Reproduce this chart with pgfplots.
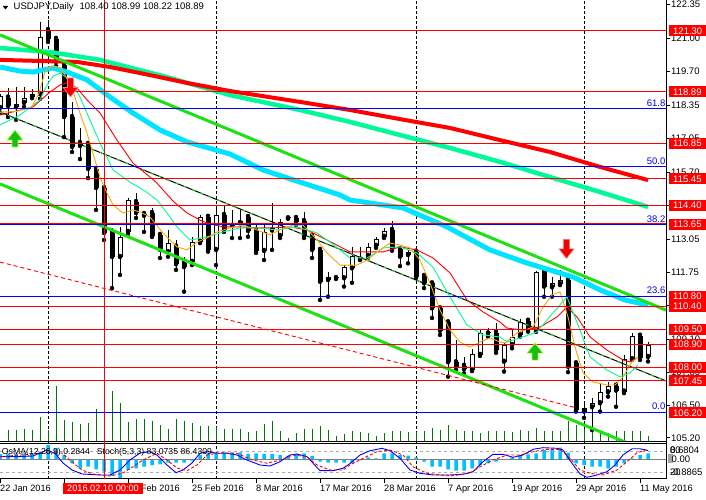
\documentclass[border=0pt]{standalone}
\usepackage{pgfplots}
\pgfplotsset{compat=1.18}
\usepackage{pgfplotstable}
\usepackage{fontspec}
\setmainfont{Liberation Sans}

\definecolor{mtred}{RGB}{255,0,0}
\definecolor{mtblue}{RGB}{0,0,255}
\definecolor{springg}{RGB}{0,250,154}
\definecolor{aquac}{RGB}{0,228,255}
\definecolor{limec}{RGB}{30,225,20}
\definecolor{volg}{RGB}{0,120,0}
\definecolor{osmab}{RGB}{0,191,255}
\definecolor{orangec}{RGB}{255,165,0}
\definecolor{upfill}{RGB}{20,190,20}
\definecolor{upedge}{RGB}{170,255,60}
\definecolor{dnfill}{RGB}{240,0,0}
\definecolor{dnedge}{RGB}{255,120,120}
\definecolor{lvl}{RGB}{170,170,170}

\newcommand{\lbl}{\fontsize{9.5}{11}\selectfont}
\newcommand{\sml}{\fontsize{9.2}{11}\selectfont}

\pgfdeclareplotmark{mtup}{%
  \pgfpathmoveto{\pgfqpoint{0pt}{8.5pt}}%
  \pgfpathlineto{\pgfqpoint{8pt}{-1.5pt}}%
  \pgfpathlineto{\pgfqpoint{3pt}{-1.5pt}}%
  \pgfpathlineto{\pgfqpoint{3pt}{-8.5pt}}%
  \pgfpathlineto{\pgfqpoint{-3pt}{-8.5pt}}%
  \pgfpathlineto{\pgfqpoint{-3pt}{-1.5pt}}%
  \pgfpathlineto{\pgfqpoint{-8pt}{-1.5pt}}%
  \pgfpathclose
  \pgfusepathqfillstroke}
\pgfdeclareplotmark{mtdown}{%
  \pgfpathmoveto{\pgfqpoint{0pt}{-9.5pt}}%
  \pgfpathlineto{\pgfqpoint{7.5pt}{0pt}}%
  \pgfpathlineto{\pgfqpoint{3pt}{0pt}}%
  \pgfpathlineto{\pgfqpoint{3pt}{9.5pt}}%
  \pgfpathlineto{\pgfqpoint{-3pt}{9.5pt}}%
  \pgfpathlineto{\pgfqpoint{-3pt}{0pt}}%
  \pgfpathlineto{\pgfqpoint{-7.5pt}{0pt}}%
  \pgfpathclose
  \pgfusepathqfillstroke}

\pgfplotstableread{
x O H L C
0 118.24 118.80 118.05 118.71
8 118.65 119.03 117.88 118.32
16 118.27 119.07 117.77 118.39
24 118.44 119.07 118.28 118.63
32 118.67 118.99 118.63 118.79
40 118.79 121.64 118.60 121.05
48 121.32 121.72 120.85 120.97
56 120.97 121.08 119.90 120.06
64 119.94 120.06 117.09 117.88
72 117.88 118.48 116.50 116.70
80 116.86 117.45 116.22 116.74
88 116.82 116.93 115.47 115.83
96 115.83 115.91 114.21 115.08
104 115.08 115.31 113.02 113.30
112 113.34 113.50 111.12 112.35
120 112.35 113.53 111.64 113.14
128 113.34 114.68 113.26 114.60
136 114.52 114.88 113.89 114.09
144 114.05 114.12 113.34 113.98
152 114.09 114.29 113.14 113.19
160 113.22 113.30 112.31 112.63
168 112.54 113.42 112.36 112.92
176 112.76 113.02 111.84 112.06
184 112.11 112.36 110.98 111.95
192 112.16 113.15 112.03 112.95
200 112.95 114.01 112.90 113.94
208 113.94 114.01 112.56 112.63
216 112.63 114.29 112.03 114.01
224 114.01 114.41 113.34 113.42
232 113.58 114.21 113.10 113.62
240 113.69 114.21 113.10 113.77
248 113.93 113.94 113.15 113.38
256 113.42 113.61 112.51 112.60
264 112.59 113.61 112.23 113.35
272 113.40 114.48 112.63 113.50
280 113.18 113.85 113.10 113.75
288 113.88 113.93 113.86 113.90
296 113.89 114.01 113.61 113.75
304 113.77 114.14 113.10 113.18
312 113.18 113.20 112.31 112.63
320 112.63 112.67 110.65 111.37
328 111.44 111.77 110.78 111.56
336 111.52 111.60 111.48 111.54
344 111.51 112.03 111.18 111.97
352 111.90 112.76 111.33 112.39
360 112.26 112.76 112.23 112.36
368 112.39 112.89 112.31 112.76
376 112.79 113.15 112.71 113.05
384 113.15 113.48 113.10 113.39
392 113.42 113.77 112.60 112.66
400 112.66 112.70 111.99 112.36
408 112.43 112.63 112.10 112.56
416 112.56 112.63 111.52 111.57
424 111.60 111.65 111.12 111.31
432 111.31 111.35 109.94 110.32
440 110.32 110.35 109.27 109.43
448 109.77 109.86 107.62 108.19
456 108.19 109.07 107.88 108.01
464 108.05 108.41 107.75 107.91
472 107.88 108.71 107.84 108.52
480 108.48 109.46 108.44 109.33
488 109.33 109.54 109.20 109.36
496 109.36 109.74 108.56 108.67
504 108.21 108.95 107.82 108.87
512 108.87 109.46 108.74 109.20
520 109.27 109.89 109.20 109.79
528 109.83 109.93 109.40 109.49
536 109.46 111.81 109.39 111.74
544 111.86 111.90 110.78 111.18
552 111.15 111.57 110.78 111.33
560 111.28 111.84 111.24 111.44
568 111.44 111.64 107.80 108.01
576 108.15 108.21 106.24 106.30
584 106.24 106.57 105.99 106.38
592 106.41 106.78 105.51 106.57
600 106.57 107.36 106.24 107.00
608 107.00 107.42 106.83 107.26
616 107.26 107.42 106.43 107.07
624 107.03 108.48 106.97 108.31
632 108.31 109.36 108.28 109.24
640 109.24 109.36 108.28 108.37
648 108.40 108.99 108.22 108.89
}\candles

\pgfplotstableread{
x v
8 11
16 11
24 12.5
32 11
40 24.3
48 11
56 55
64 21
72 19.3
80 17
88 18.3
96 32
104 40
112 50
120 38.3
128 19.3
136 22.7
144 22
152 20
160 16
168 12
176 22
184 20
192 18
200 15
208 15
216 14
224 12
232 12
240 12.5
248 9
256 10.5
264 17
272 20
280 10.5
288 3
296 8
304 12
312 12
320 15
328 11
336 5
344 7
352 10
360 9
368 8
376 5
384 8
392 10
400 10
408 9
416 9
424 10
432 13
440 11
448 16
456 11
464 10
472 10
480 8
488 10
496 10
504 10
512 9
520 11
528 10
536 13
544 10
552 10
560 10
568 20
576 16
584 12
592 11
600 10
608 8
616 10
624 10
632 10
640 10
648 5
}\volumes

\pgfplotstableread{
x v
0 0.25
8 0.285
16 0.285
24 0.285
32 0.285
40 0.361
48 0.680
56 0.523
64 0.204
72 -0.190
80 -0.428
88 -0.347
96 -0.475
104 -0.584
112 -0.793
120 -0.887
128 -0.508
136 -0.428
144 -0.347
152 -0.271
160 -0.238
168 -0.157
176 -0.157
184 -0.157
192 -0.062
200 0.204
208 0.285
216 0.333
224 0.333
232 0.333
240 0.333
248 0.252
256 0.285
264 0.252
272 0.252
280 0.204
288 0.166
296 0.252
304 0.285
312 0.157
320 -0.109
328 -0.157
336 -0.157
344 -0.157
352 -0.190
360 -0.048
368 0.095
376 0.048
384 0.285
392 0.285
400 0.204
408 0.176
416 0.095
424 -0.109
432 -0.347
440 -0.347
448 -0.475
456 -0.537
464 -0.537
472 -0.428
480 -0.271
488 -0.190
496 -0.109
504 -0.033
512 0.095
520 0.204
528 0.238
536 0.285
544 0.442
552 0.475
560 0.556
568 0.318
576 -0.190
584 -0.271
592 -0.347
600 -0.347
608 -0.428
616 -0.347
624 -0.190
632 0.048
640 0.204
648 0.284
}\osma

\pgfplotsset{
  base/.style={scale only axis, width=666pt, xmin=0, xmax=666,
    clip mode=individual, anchor=south west},
  bare/.style={axis line style={draw=none}, xtick=\empty, ytick=\empty},
}

\begin{document}
\begin{tikzpicture}[x=1pt,y=1pt]
\useasboundingbox (0,0) rectangle (706,500);
\fill[white] (0,0) rectangle (706,500);

% ---- back frame: monthly separators
\begin{axis}[base, bare, at={(0pt,21pt)}, height=479pt, ymin=0, ymax=479]
  \pgfplotsinvokeforeach{48,216,416,584}{
    \addplot[black, line width=0.9pt, dash pattern=on 3pt off 2pt] coordinates {(#1,0) (#1,479)};
  }
\end{axis}

% ---- volumes
\begin{axis}[base, bare, at={(0pt,58.5pt)}, height=441.5pt, ymin=0, ymax=441.5]
  \addplot[ycomb, volg, line width=1pt] table[x=x,y=v] {\volumes};
\end{axis}

% ---- main price panel
\begin{axis}[base, at={(0pt,58.5pt)}, height=441.5pt,
  ymin=105.057, ymax=122.508,
  axis line style={draw=none},
  xtick=\empty, ytick pos=right, yticklabel pos=right,
  ytick={105.20,106.50,107.80,109.10,110.45,111.75,113.05,114.40,115.70,117.05,118.35,119.70,121.00,122.35},
  yticklabels={105.20,106.50,107.80,109.10,110.45,111.75,113.05,114.40,115.70,117.05,118.35,119.70,121.00,122.35},
  tick align=outside, major tick length=4pt, tick style={black, line width=0.8pt},
  yticklabel style={font=\lbl, anchor=west, inner sep=0pt, xshift=1pt},
]
  % candles: wicks, bodies, hollow interiors
  \addplot[only marks, mark=none, error bars/.cd, y dir=plus, y explicit, error mark=none,
    error bar style={black, solid, line width=1pt}]
    table[x=x, y=L, y error expr=\thisrow{H}-\thisrow{L}] {\candles};
  \addplot[only marks, mark=none, error bars/.cd, y dir=plus, y explicit, error mark=none,
    error bar style={black, solid, line width=5pt}]
    table[x=x, y expr={min(\thisrow{O},\thisrow{C})}, y error expr={max(abs(\thisrow{O}-\thisrow{C}),0.04)}] {\candles};
  \addplot[only marks, mark=none, error bars/.cd, y dir=plus, y explicit, error mark=none,
    error bar style={white, solid, line width=3pt}]
    table[x=x, y expr={\thisrow{O}+0.0395}, y error expr={max(\thisrow{C}-\thisrow{O}-0.079,0)}] {\candles};

  % slow moving averages
  \addplot[springg, line width=4.5pt] coordinates {(0,120.61) (50,120.45) (100,120.14) (167,119.46) (230,118.75) (300,118.16) (350,117.69) (400,117.17) (450,116.66) (500,116.11) (550,115.51) (600,114.92) (648,114.33)};
  \addplot[mtred, line width=4pt] coordinates {(0,120.14) (77,120.06) (110,119.86) (150,119.54) (187,119.23) (230,118.91) (300,118.48) (350,118.16) (400,117.80) (450,117.45) (500,116.97) (550,116.50) (600,115.91) (648,115.39)};
  \addplot[aquac, line width=5pt] coordinates {(0,119.86) (20,119.70) (33,119.66) (43,119.74) (53,119.82) (67,119.66) (87,119.35) (110,118.67) (133,118.04) (160,117.37) (187,116.90) (230,116.42) (263,115.79) (300,115.31) (340,114.80) (350,114.60) (403,114.29) (447,113.54) (490,112.63) (527,112.11) (573,111.56) (600,111.05) (625,110.65) (648,110.45)};

  % channel and trend lines
  \addplot[limec, line width=3pt] coordinates {(0,121.13) (666,110.25)};
  \addplot[limec, line width=3pt] coordinates {(0,115.24) (666,104.37)};
  \addplot[black, line width=1pt] coordinates {(0,118.08) (666,107.45)};
  \addplot[limec, line width=1pt, dash pattern=on 3pt off 6pt] coordinates {(0,118.08) (666,107.45)};
  \addplot[mtred, line width=0.9pt, dash pattern=on 4pt off 3pt] coordinates {(0,112.15) (577,106.38)};

  % fast moving averages
  \addplot[mtred, line width=0.9pt] coordinates {(0,117.96) (33,118.28) (50,118.87) (60,119.15) (67,119.23) (77,119.03) (87,118.56) (100,118.04) (117,116.97) (133,116.06) (150,115.51) (157,115.27) (173,114.56) (187,114.09) (200,113.81) (207,113.69) (223,113.54) (240,113.54) (257,113.50) (273,113.50) (290,113.54) (307,113.42) (323,113.10) (333,112.90) (350,112.55) (383,112.55) (400,112.75) (417,112.63) (433,112.31) (450,111.72) (467,110.65) (483,110.18) (500,109.78) (507,109.54) (523,109.46) (540,109.58) (557,109.98) (567,110.37) (577,109.98) (590,109.19) (607,108.67) (623,108.28) (630,108.20) (637,108.36)};
  \addplot[springg, line width=0.9pt] coordinates {(0,117.57) (20,117.96) (40,118.56) (47,119.15) (53,119.50) (60,119.62) (70,119.35) (80,118.67) (90,117.76) (100,116.86) (113,115.79) (130,115.31) (145,114.96) (157,114.60) (167,114.09) (177,113.54) (190,113.02) (207,113.14) (223,113.34) (240,113.50) (257,113.50) (277,113.42) (297,113.54) (317,113.30) (330,112.94) (340,112.63) (350,112.31) (367,112.31) (383,112.71) (400,112.75) (417,112.51) (433,111.95) (450,110.77) (467,109.66) (483,109.27) (500,109.19) (507,108.99) (523,109.19) (537,109.39) (553,110.14) (567,110.77) (580,109.46) (590,108.40) (607,107.88) (620,107.61) (630,107.77) (638,108.08)};
  \addplot[orangec, line width=0.9pt] coordinates {(0,118.08) (16,118.10) (32,118.28) (39,118.83) (45,119.66) (50,119.86) (55,119.90) (60,119.82) (65,119.54) (72,119.03) (80,118.04) (87,117.25) (95,116.18) (100,115.51) (107,114.88) (113,114.41) (123,114.09) (133,114.21) (140,114.13) (150,113.93) (163,113.30) (177,112.75) (187,112.63) (197,112.94) (207,113.10) (217,113.34) (230,113.50) (243,113.61) (257,113.42) (270,113.22) (280,113.42) (293,113.61) (303,113.61) (317,113.02) (327,112.51) (340,112.03) (357,112.03) (367,112.23) (380,112.63) (390,112.90) (400,112.82) (410,112.71) (420,112.23) (430,111.32) (440,110.25) (450,109.46) (460,108.99) (470,108.79) (480,108.99) (490,109.15) (500,108.99) (505,108.95) (517,109.35) (533,109.58) (543,110.37) (552,110.85) (560,110.97) (568,109.98) (575,108.79) (583,107.77) (593,107.41) (607,107.29) (615,107.29) (623,107.61) (632,108.20) (638,108.40)};

  % horizontal levels
  \pgfplotsinvokeforeach{121.30,118.89,116.85,115.45,114.40,113.65,110.40,109.50,108.90,108.00,107.45,106.20}{
    \addplot[mtred, line width=1pt] coordinates {(0,#1) (666,#1)};
  }
  \pgfplotsinvokeforeach{118.20,115.91,113.62,110.80,106.22}{
    \addplot[mtblue, line width=1pt] coordinates {(0,#1) (666,#1)};
  }
  \addplot[mtred, line width=1pt] coordinates {(0,113.66) (666,113.66)};

  % signal arrows
  \addplot[only marks, mark=mtup, mark options={fill=upfill, draw=upedge, line width=0.7pt}] coordinates {(15,117.03) (535,108.61)};
  \addplot[only marks, mark=mtdown, mark options={fill=dnfill, draw=dnedge, line width=0.7pt}] coordinates {(70.5,119.05) (566.5,112.67)};
\end{axis}

% ---- overlay with price labels
\begin{axis}[base, bare, at={(0pt,58.5pt)}, height=441.5pt, ymin=105.057, ymax=122.508]
  \pgfplotsinvokeforeach{121.30,118.89,116.85,115.45,114.40,113.65,110.80,110.40,109.50,108.90,108.00,107.45,106.20}{
    \node[fill=mtred, text=white, anchor=west, inner xsep=4pt, inner ysep=0pt,
      minimum height=11pt, text height=7pt, text depth=0pt, font=\lbl] at (axis cs:669,#1) {#1};
  }
  \node[anchor=south east, inner sep=0pt, text=mtblue, font=\lbl] at (axis cs:665.5,118.28) {61.8};
  \node[anchor=south east, inner sep=0pt, text=mtblue, font=\lbl] at (axis cs:665.5,115.99) {50.0};
  \node[anchor=south east, inner sep=0pt, text=mtblue, font=\lbl] at (axis cs:665.5,113.70) {38.2};
  \node[anchor=south east, inner sep=0pt, text=mtblue, font=\lbl] at (axis cs:665.5,110.88) {23.6};
  \node[anchor=south east, inner sep=0pt, text=mtblue, font=\lbl] at (axis cs:665.5,106.30) {0.0};
\end{axis}

% ---- oscillator panel: OsMA histogram
\begin{axis}[base, bare, at={(0pt,21pt)}, height=35pt, ymin=-0.9359, ymax=0.7268]
  \addplot[ybar, bar width=3.5pt, fill=osmab, draw=none] table[x=x,y=v] {\osma};
  \addplot[gray, line width=1pt] coordinates {(0,0) (666,0)};
\end{axis}

% ---- oscillator panel: stochastic
\begin{axis}[base, bare, at={(0pt,21pt)}, height=35pt, ymin=0, ymax=101.95]
  \addplot[lvl, line width=0.8pt, dash pattern=on 3pt off 3pt] coordinates {(0,80) (666,80)};
  \addplot[lvl, line width=0.8pt, dash pattern=on 3pt off 3pt] coordinates {(0,20) (666,20)};
  \addplot[mtblue, line width=0.9pt] coordinates {(0,65) (17,65) (33,67) (47,84.5) (55,74.9) (63,46.6) (72,26.2) (82,14.6) (100,11.7) (110,11.7) (120,26.2) (130,55.3) (140,75.7) (150,79.5) (157,69.9) (167,40.8) (176,18.4) (183,26.2) (192,46.6) (200,74.9) (208,79.5) (217,74.9) (227,74.9) (237,69.9) (247,55.3) (260,40.8) (270,37.9) (280,50.4) (290,69.9) (297,72.8) (307,65.0) (320,24.2) (333,24.2) (343,31.2) (350,45) (360,69.9) (370,82.4) (382,89.4) (390,82.4) (400,60.3) (410,26.2) (420,16.6) (433,11.7) (450,11.7) (463,13.7) (473,21.3) (483,50.4) (493,71.9) (503,71.9) (513,63.2) (523,69.9) (533,86.5) (543,91.2) (557,89.4) (563,84.5) (572,45.7) (580,14.6) (587,5.0) (597,11.7) (607,21.3) (615,40.8) (623,69.9) (632,88) (640,88) (648,83.07)};
  \addplot[mtred, line width=0.9pt, dash pattern=on 3pt off 2pt] coordinates {(0,65) (50,76.6) (62,75.7) (72,49.5) (82,26.2) (93,14.6) (110,8.7) (123,17.5) (133,35.8) (143,55.3) (157,74.9) (167,55.3) (177,32) (187,24.2) (197,40.8) (207,69.9) (220,76.6) (237,74.3) (253,55.3) (267,45.7) (280,55.3) (293,69.9) (307,65) (317,40.8) (330,26.2) (343,26.2) (350,40.8) (363,60.3) (377,79.5) (390,84.5) (403,69.9) (413,35.8) (427,16.6) (450,8.7) (470,16.6) (480,35.8) (493,55.3) (507,69.9) (520,69.9) (533,79.5) (547,86.5) (560,86.5) (570,60.3) (580,26.2) (590,16.6) (603,11.7) (617,26.2) (627,50.4) (637,76.6) (648,86.43)};
\end{axis}

% ---- top frame: borders, dates, texts, cursor
\begin{axis}[base, at={(0pt,21pt)}, height=479pt, ymin=0, ymax=479,
  axis line style={draw=none},
  ytick=\empty, xtick pos=bottom, xticklabel pos=bottom,
  xtick={0,64,128,192,256,320,384,448,512,576,640},
  xticklabels={22 Jan 2016,3 Feb 2016,15 Feb 2016,25 Feb 2016,8 Mar 2016,17 Mar 2016,28 Mar 2016,7 Apr 2016,19 Apr 2016,29 Apr 2016,11 May 2016},
  tick align=outside, major tick length=4pt, tick style={black, line width=0.8pt},
  xticklabel style={font=\sml, anchor=north west, inner sep=0pt, yshift=-2pt},
]
  \draw[black, line width=1pt] (axis cs:0,0) -- (axis cs:666.5,0);
  \draw[black, line width=1pt] (axis cs:666.5,0) -- (axis cs:666.5,479);
  \draw[black, line width=1pt] (axis cs:0,37.8) -- (axis cs:666.5,37.8);
  \draw[black, line width=1pt] (axis cs:0,35.3) -- (axis cs:666.5,35.3);
  \draw[mtred, line width=1pt] (axis cs:104,0) -- (axis cs:104,479);
  \node[fill=mtred, text=white, inner xsep=4pt, inner ysep=0pt, minimum height=11pt,
    text height=7pt, text depth=0pt, font=\sml] at (axis cs:103,-9.5) {2016.02.10 00:00};
  % title
  \fill[black] (axis cs:2.7,473) -- (axis cs:8.2,473) -- (axis cs:5.45,469.5) -- cycle;
  \node[anchor=west, inner sep=0pt, font=\lbl] at (axis cs:13.5,471.5) {USDJPY,Daily\hspace{6pt}108.40 108.99 108.22 108.89};
  % oscillator texts
  \node[anchor=west, inner sep=0pt, font=\fontsize{8.7}{10}\selectfont] at (axis cs:1.7,27) {OsMA(12,26,9) 0.2844\hspace{7pt}Stoch(5,3,3) 83.0735 86.4309};
  \fill[gray!70] (axis cs:668,16) rectangle (axis cs:672.5,25);
  \node[anchor=west, inner sep=0pt, font=\lbl] at (axis cs:670,29) {0.6804};
  \node[anchor=west, inner sep=0pt, font=\lbl] at (axis cs:670,29) {80};
  \node[anchor=west, inner sep=0pt, font=\lbl] at (axis cs:671.5,19.7) {0.00};
  \node[anchor=west, inner sep=0pt, font=\lbl] at (axis cs:670,6.5) {-0.8865};
  \node[anchor=west, inner sep=0pt, font=\lbl] at (axis cs:670,6.5) {20};
\end{axis}
\end{tikzpicture}
\end{document}
